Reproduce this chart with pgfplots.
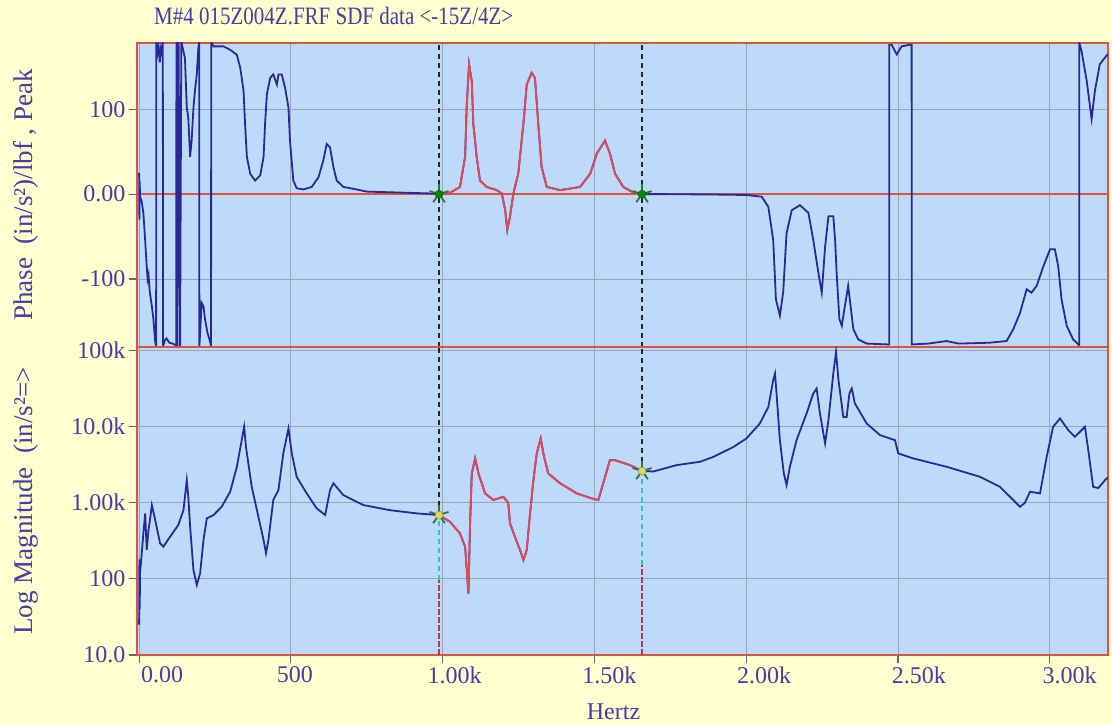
\documentclass[border=0pt]{standalone}
\usepackage{pgfplots}
\pgfplotsset{compat=1.18}
\usepackage{pgfplotstable}
\usepackage{fontspec}
\setmainfont{Liberation Serif}

\definecolor{bgyellow}{RGB}{255,255,208}
\definecolor{plotbg}{RGB}{190,218,250}
\definecolor{curveblue}{RGB}{40,40,150}
\definecolor{fitred}{RGB}{228,72,84}
\definecolor{bordred}{RGB}{222,82,62}
\definecolor{gridc}{RGB}{150,166,184}
\definecolor{labc}{RGB}{70,60,170}
\definecolor{tickc}{RGB}{110,100,120}
\definecolor{cyanc}{RGB}{60,190,200}
\definecolor{markg}{RGB}{40,120,60}
\definecolor{marky}{RGB}{225,215,90}

\pgfplotstableread{
x y
0 25
1 -30
2 15
3 -3
8 -8
14 -22
20 -55
25 -85
28 -100
31 -95
35 -115
42 -132
47 -147
53 -174
56 -179
56.5 179
60 165
64 175
68 155
72 172
77 162
78 179
79 -179
85 -172
90 -170
100 -175
110 -176
122 -178
123 179
126 -179
130 179
135 -179
139 179
145 170
151 160
157 102
162 90
168 44
173 63
179 102
184 122
190 141
195 172
198 179
198.5 -179
201 -163
206 -128
212 -132
217 -147
225 -163
234 -174
237 -179
237.5 179
245 174
278 174
300 170
322 164
333 149
344 122
349 83
355 44
366 24
382 16
399 22
410 44
415 83
421 118
432 137
442 141
454 129
459 141
470 141
481 125
492 102
497 63
508 16
519 7
541 5.5
569 8.5
591 20
607 40
618 59
629 55
640 32
651 16
673 8.5
717 5.5
750 3
893 1.5
988 0.5
1024 1.5
1057 8.5
1074 44
1079 102
1087 153
1096 133
1101 83
1112 44
1123 16
1145 8.5
1178 4.7
1195 0.8
1206 -19
1213 -42
1222 -26
1233 0.8
1249 24
1266 83
1277 129
1293 143
1304 137
1315 83
1326 32
1343 8.5
1387 4.7
1453 8.5
1486 24
1508 48
1535 63
1551 48
1568 24
1595 8.5
1628 2
1657 0
1738 0
1900 -0.5
2001 -1
2051 -3
2073 -15
2089 -54
2098 -124
2111 -143
2122 -115
2133 -46
2150 -19
2177 -13
2205 -22
2221 -54
2238 -93
2249 -116
2260 -62
2271 -26
2287 -26
2293 -54
2298 -93
2307 -147
2315 -155
2325 -132
2336 -108
2344 -132
2353 -159
2369 -171
2397 -176
2468 -177
2471 -177
2471.5 176
2479 176
2496 164.5
2512 174
2540 176
2545 176
2545.5 -177
2600 -176
2660 -173
2700 -176
2800 -175
2858 -173
2880 -159
2902 -140
2924 -112
2940 -116
2957 -108
2979 -85
3001 -65
3017 -65
3028 -85
3039 -124
3056 -155
3077 -171
3094 -177
3097 -178
3097.5 178
3105 168
3122 133
3138 88.5
3149 122
3165 153
3187 163
3192 165
}\phasetab

\pgfplotstableread{
x y
0 25
1 180
2 40
3 118
8 200
14 395
20 721
25 238
31 440
36 600
42 927
53 589
69 292
80 264
102 356
129 507
146 794
157 1970
162 1200
168 482
179 130
190 83
201 118
212 322
223 621
245 686
272 881
300 1387
322 2950
338 6600
346 9860
352 5370
371 1610
393 651
410 322
418 216
426 322
442 1080
459 1460
475 4420
492 9400
503 4420
519 2180
552 1320
585 840
613 686
629 1460
640 1790
673 1250
739 927
827 794
915 721
988 686
1024 560
1057 395
1074 264
1085 64
1090 482
1096 2415
1107 3800
1118 2415
1140 1320
1167 1080
1200 1190
1216 990
1222 533
1238 356
1255 238
1266 176
1277 238
1288 721
1299 1970
1310 4420
1323 6950
1334 3980
1348 2415
1387 1790
1442 1320
1491 1135
1513 1080
1529 1790
1551 3600
1568 3600
1617 3100
1657 2590
1694 2560
1771 3100
1848 3430
1892 3980
1958 5370
2001 6950
2045 10900
2073 18000
2089 40500
2095 49400
2100 27000
2111 6600
2124 2415
2133 1700
2144 2950
2166 6600
2199 14800
2221 27000
2232 31400
2243 14800
2260 5970
2271 12100
2287 49400
2296 95000
2304 40500
2320 13300
2331 13300
2340 27000
2348 31400
2358 20000
2397 10900
2441 7670
2490 6600
2501 4420
2550 3800
2660 2950
2770 2180
2836 1610
2880 1080
2902 881
2918 990
2935 1387
2968 1320
2990 3980
3011 9860
3034 12700
3061 8930
3083 7300
3116 9860
3127 4890
3143 1610
3160 1550
3187 2070
3192 2100
}\magtab

\pgfplotsset{
  myax/.style={
    scale only axis, width=971pt,
    xmin=-7, xmax=3192,
    axis background/.style={fill=plotbg},
    axis line style={draw=bordred, line width=2.2pt},
    grid=major, grid style={draw=gridc, line width=0.9pt},
    tick align=outside, major tick length=8pt,
    tick style={draw=tickc, line width=1.2pt},
    xminorticks=false, yminorticks=false,
    xtick pos=bottom, ytick pos=left,
    xtick={0,500,...,3000},
    ticklabel style={font=\fontsize{24}{24}\selectfont, text=labc},
    /pgf/number format/assume math mode=true,
    ylabel style={font=\fontsize{27}{27}\selectfont, text=labc, at={(rel axis cs:0,0.5)}, anchor=center, rotate=0, yshift=111pt},
  },
  cursorblk/.style={draw=black!85, line width=1.6pt, dash pattern=on 5pt off 4pt},
  cursorcy/.style={draw=cyanc, line width=1.2pt, dash pattern=on 5pt off 4pt},
  cursorred/.style={draw=fitred!80!black, line width=2.8pt, dash pattern=on 6pt off 2pt},
  starmark/.style={only marks, mark=star, mark size=10pt, mark options={draw=markg, line width=1.8pt}},
  dotmark/.style={only marks, mark=*, mark size=4pt, mark options={fill=marky, draw=marky!60!black}},
}

\begin{document}
\begin{tikzpicture}[x=1pt,y=1pt]
\fill[bgyellow] (0,0) rectangle (1112,725);
\useasboundingbox (0,0) rectangle (1112,725);

\node[anchor=west, text=labc, font=\fontsize{25}{25}\selectfont, inner sep=0pt] at (154,709) {\scalebox{0.84}[1]{M\#4 015Z004Z.FRF SDF data {<}-15Z/4Z{>}}};

% ---------- Phase panel ----------
\begin{axis}[myax,
  at={(137pt,378pt)}, anchor=south west, height=304pt,
  ymin=-180, ymax=178,
  ytick={-100,0,100}, yticklabels={-100,0.00,100},
  xticklabels={}, xtick style={draw=none},
  ylabel={Phase\ \ (in/s²)/lbf , Peak},
]
\addplot[bordred, line width=2.4pt, forget plot] coordinates {(-7,0) (3192,0)};
\addplot[curveblue, line width=1.8pt] table[x=x,y=y] {\phasetab};
\addplot[fitred, line width=1.8pt, restrict x to domain=988:1657] table[x=x,y=y] {\phasetab};
\addplot[cursorblk] coordinates {(988,-180) (988,178)};
\addplot[cursorblk] coordinates {(1657,-180) (1657,178)};
\addplot[starmark] coordinates {(988,0) (1657,0)};
\addplot[dotmark, mark options={fill=green!55!black, draw=green!35!black}] coordinates {(988,0) (1657,0)};
\end{axis}

% ---------- Magnitude panel ----------
\begin{axis}[myax,
  at={(137pt,70pt)}, anchor=south west, height=308pt,
  ymode=log, ymin=10, ymax=110000,
  ytick={10,100,1000,10000,100000},
  yticklabels={10.0,100,1.00k,10.0k,100k},
  xticklabels={\hspace*{46pt}0.00,\hspace*{8pt}500,\hspace*{24pt}1.00k,\hspace*{30pt}1.50k,\hspace*{36pt}2.00k,\hspace*{42pt}2.50k,\hspace*{40pt}3.00k},
  xticklabel style={anchor=north, yshift=0pt},
  ylabel={Log Magnitude\ \ (in/s²=>},
  xlabel={Hertz},
  xlabel style={font=\fontsize{24}{24}\selectfont, text=labc, at={(rel axis cs:0.5,0)}, anchor=center, yshift=-57pt, xshift=-9pt},
]
\addplot[curveblue, line width=1.8pt] table[x=x,y=y] {\magtab};
\addplot[fitred, line width=1.8pt, restrict x to domain=988:1657] table[x=x,y=y] {\magtab};
\addplot[cursorblk] coordinates {(988,686) (988,110000)};
\addplot[cursorblk] coordinates {(1657,2590) (1657,110000)};
\addplot[cursorcy] coordinates {(988,96) (988,686)};
\addplot[cursorcy] coordinates {(1657,150) (1657,2590)};
\addplot[cursorred] coordinates {(988,10) (988,96)};
\addplot[cursorred] coordinates {(1657,10) (1657,150)};
\addplot[starmark] coordinates {(988,686) (1657,2590)};
\addplot[dotmark] coordinates {(988,686) (1657,2590)};
\end{axis}
\end{tikzpicture}
\end{document}
